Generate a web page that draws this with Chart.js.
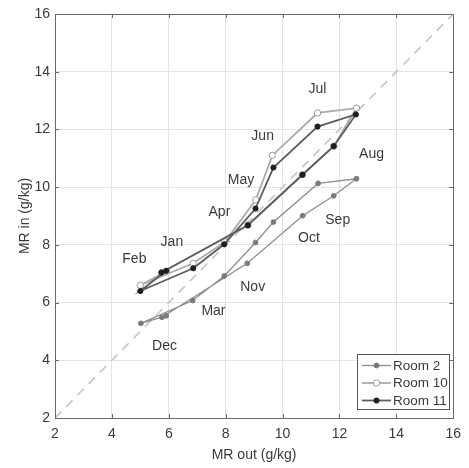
<!DOCTYPE html>
<html>
<head>
<meta charset="utf-8">
<script src="https://cdn.jsdelivr.net/npm/chart.js@4.4.1/dist/chart.umd.min.js"></script>
<style>
html,body{margin:0;padding:0;background:#fff;}
#wrap{position:relative;width:469px;height:468px;}
</style>
</head>
<body>
<div id="wrap"><canvas id="c" width="469" height="468"></canvas></div>
<script>
// ---- data ----
const months = ['Jan','Feb','Mar','Apr','May','Jun','Jul','Aug','Sep','Oct','Nov','Dec'];
const seriesNames = ['Room 2','Room 10','Room 11'];
const room2Out  = [5.91, 5.02, 6.84, 7.95, 9.05, 9.68, 11.25, 12.60, 11.80, 10.71, 8.76, 5.76];
const room2In   = [5.54, 5.28, 6.07, 6.92, 8.08, 8.79, 10.13, 10.29, 9.70, 9.01, 7.36, 5.49];
const room10Out = [5.92, 5.00, 6.86, 7.97, 9.06, 9.64, 11.23, 12.60, 11.80, 10.70, 8.78, 5.76];
const room10In  = [7.08, 6.60, 7.36, 8.10, 9.56, 11.10, 12.57, 12.74, 11.42, 10.43, 8.68, 7.04];
const room11Out = [5.91, 5.00, 6.86, 7.95, 9.05, 9.68, 11.23, 12.58, 11.80, 10.70, 8.78, 5.74];
const room11In  = [7.10, 6.40, 7.19, 8.02, 9.26, 10.68, 12.10, 12.52, 11.42, 10.43, 8.68, 7.04];
const diagonal = [2, 16];
const tickValues = [2, 4, 6, 8, 10, 12, 14, 16];
// month annotation anchor (data coordinates)
const labelX = [6.11, 4.79, 7.57, 7.78, 8.54, 9.30, 11.23, 13.13, 11.94, 10.93, 8.95, 5.85];
const labelY = [8.10, 7.51, 5.71, 9.12, 10.25, 11.77, 13.39, 11.15, 8.86, 8.22, 6.53, 4.50];

const pts = (xs, ys) => xs.map((x, i) => ({x, y: ys[i]}));
const FONT = "'Liberation Sans', Arial, sans-serif";
const TXT = '#3a3a3a';

const styles = [
  {line:'#8e8e8e', width:1.3, fill:'#7a7a7a', stroke:'#7a7a7a', r:2.4, order:3},
  {line:'#ababab', width:1.8, fill:'#ffffff', stroke:'#9a9a9a', r:3.2, order:2},
  {line:'#5e5e5e', width:1.8, fill:'#1e1e1e', stroke:'#1e1e1e', r:2.6, order:1}
];
const seriesData = [pts(room2Out, room2In), pts(room10Out, room10In), pts(room11Out, room11In)];

const datasets = [{
  label:'diag', data: pts(diagonal, diagonal), showLine:true, order:10,
  borderColor:'#c4c4c4', borderWidth:1.6, borderDash:[9,7], pointRadius:0
}];
seriesData.forEach((d, i) => {
  datasets.push({
    label: seriesNames[i], data: d, showLine:true, order: styles[i].order,
    borderColor: styles[i].line, borderWidth: styles[i].width,
    pointRadius: styles[i].r, pointBackgroundColor: styles[i].fill,
    pointBorderColor: styles[i].stroke, pointBorderWidth: 1
  });
});

const overlay = {
  id:'overlay',
  afterDraw(chart){
    const ctx = chart.ctx, a = chart.chartArea;
    const xs = chart.scales.x, ys = chart.scales.y;
    ctx.save();
    // box
    ctx.strokeStyle = '#6a6a6a'; ctx.lineWidth = 1;
    ctx.strokeRect(Math.round(a.left)+0.5, Math.round(a.top)+0.5, Math.round(a.right-a.left), Math.round(a.bottom-a.top));
    // inner ticks
    ctx.beginPath();
    tickValues.forEach(v => {
      const px = Math.round(xs.getPixelForValue(v))+0.5;
      ctx.moveTo(px, a.bottom); ctx.lineTo(px, a.bottom-4);
      ctx.moveTo(px, a.top); ctx.lineTo(px, a.top+4);
      const py = Math.round(ys.getPixelForValue(v))+0.5;
      ctx.moveTo(a.left, py); ctx.lineTo(a.left+4, py);
      ctx.moveTo(a.right, py); ctx.lineTo(a.right-4, py);
    });
    ctx.stroke();
    // month labels
    ctx.fillStyle = TXT; ctx.font = '14px ' + FONT;
    ctx.textAlign = 'center'; ctx.textBaseline = 'middle';
    months.forEach((m, i) => {
      ctx.fillText(m, xs.getPixelForValue(labelX[i]), ys.getPixelForValue(labelY[i]));
    });
    // legend
    const bx = 357.5, by = 354.5, bw = 92, bh = 55;
    ctx.fillStyle = '#fff'; ctx.fillRect(bx, by, bw, bh);
    ctx.strokeStyle = '#555'; ctx.lineWidth = 1; ctx.strokeRect(bx, by, bw, bh);
    ctx.textAlign = 'left'; ctx.font = '13.5px ' + FONT;
    seriesNames.forEach((n, i) => {
      const yy = 365.5 + i*17.5;
      const s = styles[i];
      ctx.strokeStyle = s.line; ctx.lineWidth = s.width;
      ctx.beginPath(); ctx.moveTo(362, yy); ctx.lineTo(391, yy); ctx.stroke();
      ctx.beginPath(); ctx.arc(376.5, yy, s.r, 0, Math.PI*2);
      ctx.fillStyle = s.fill; ctx.fill();
      ctx.strokeStyle = s.stroke; ctx.lineWidth = 1; ctx.stroke();
      ctx.fillStyle = TXT;
      ctx.fillText(n, 393, yy + 0.5);
    });
    ctx.restore();
  }
};

new Chart(document.getElementById('c'), {
  type:'scatter',
  data:{datasets},
  plugins:[overlay],
  options:{
    responsive:false, animation:false,
    layout:{padding:{top:14, right:9, left:5, bottom:0}},
    plugins:{legend:{display:false}, tooltip:{enabled:false}},
    scales:{
      x:{
        type:'linear', min:2, max:16,
        afterBuildTicks(s){ s.ticks = tickValues.map(v => ({value:v})); },
        afterFit(s){ s.height = 50; },
        grid:{color:'#e4e4e4', drawTicks:false},
        border:{display:false},
        ticks:{color:TXT, font:{family:FONT, size:14}, padding:8, maxRotation:0},
        title:{display:true, text:'MR out (g/kg)', color:TXT, font:{family:FONT, size:14}, padding:{top:2}}
      },
      y:{
        type:'linear', min:2, max:16,
        afterBuildTicks(s){ s.ticks = tickValues.map(v => ({value:v})); },
        afterFit(s){ s.width = 50; },
        grid:{color:'#e4e4e4', drawTicks:false},
        border:{display:false},
        ticks:{color:TXT, font:{family:FONT, size:14}, padding:5},
        title:{display:true, text:'MR in (g/kg)', color:TXT, font:{family:FONT, size:14}, padding:{top:12, bottom:0}}
      }
    }
  }
});
</script>
</body>
</html>
